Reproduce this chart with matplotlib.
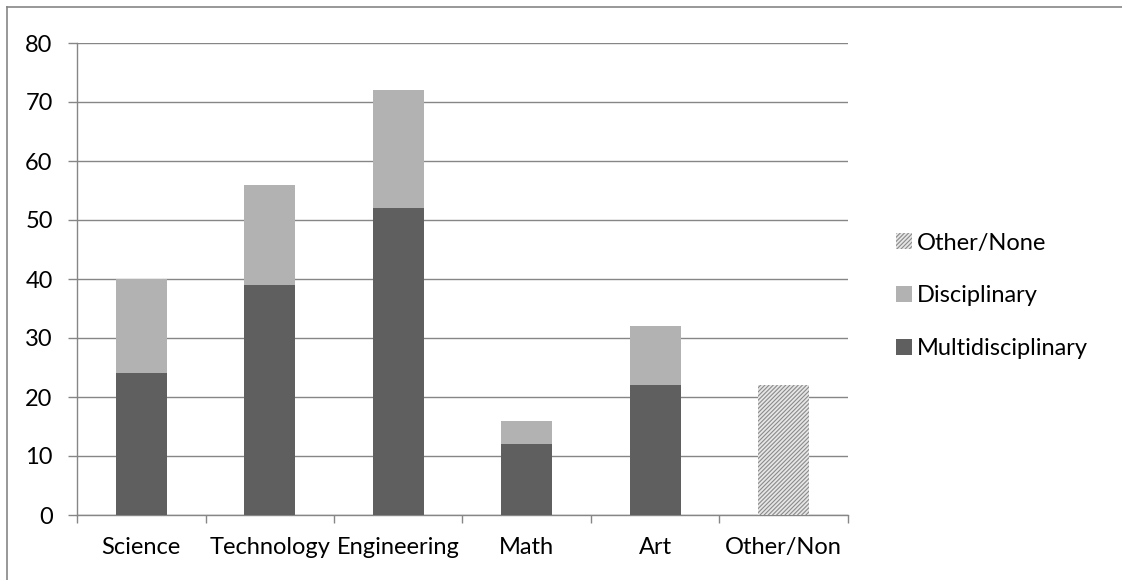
import matplotlib.pyplot as plt
import numpy as np
from matplotlib.lines import Line2D

categories = ['Science', 'Technology', 'Engineering', 'Math', 'Art', 'Other/Non']
multi = [24, 39, 52, 12, 22, 0]
disc = [16, 17, 20, 4, 10, 0]
other = [0, 0, 0, 0, 0, 22]

plt.rcParams['font.family'] = ['Lato', 'DejaVu Sans']
plt.rcParams['hatch.linewidth'] = 0.8

fig = plt.figure(figsize=(11.22, 5.8), dpi=100)
ax = fig.add_axes([77/1122, 1-515/580, (848-77)/1122, (515-43)/580])

x = np.arange(len(categories))
w = 0.4
gray = '#868686'
b1 = ax.bar(x, multi, w, color='#5f5f5f', label='Multidisciplinary', zorder=3)
b2 = ax.bar(x, disc, w, bottom=multi, color='#b2b2b2', label='Disciplinary', zorder=3)
b3 = ax.bar(x, other, w, color='#e6e6e6', edgecolor='#8a8a8a', hatch='////////',
            linewidth=0, label='Other/None', zorder=3)

ax.set_xlim(-0.5, len(categories) - 0.5)
ax.set_ylim(0, 80)
ax.set_yticks(range(0, 81, 10))
ax.yaxis.grid(True, color=gray, linewidth=1, zorder=0)
ax.set_xticks(x)
ax.set_xticklabels(categories, fontsize=17)
ax.set_xticks(np.arange(-0.5, len(categories), 1), minor=True)
ax.tick_params(axis='x', which='major', length=0, pad=16)
ax.tick_params(axis='x', which='minor', length=6, color=gray, width=1)
ax.tick_params(axis='y', length=6.5, color=gray, width=1, labelsize=17, pad=11)
for s in ['top', 'right']:
    ax.spines[s].set_visible(False)
for s in ['left', 'bottom']:
    ax.spines[s].set_color(gray)
    ax.spines[s].set_linewidth(1)

ax.legend(handles=[b3, b2, b1], loc='center left', bbox_to_anchor=(1.0, 0.464),
          frameon=False, fontsize=17, handlelength=0.68, handleheight=0.68,
          handletextpad=0.2, labelspacing=1.35, borderaxespad=1.65)

# chart frame: only left and top edges fall inside the picture
fig.add_artist(Line2D([7/1122, 7/1122], [0, 1-7/580], transform=fig.transFigure,
                      color=gray, linewidth=1.2))
fig.add_artist(Line2D([7/1122, 1], [1-7/580, 1-7/580], transform=fig.transFigure,
                      color=gray, linewidth=1.2))

fig.savefig('out.png', dpi=100)
